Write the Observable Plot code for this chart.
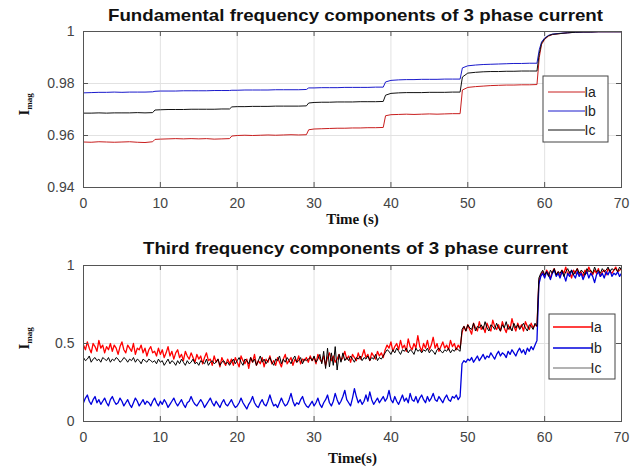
<!DOCTYPE html>
<html><head><meta charset="utf-8">
<script src="https://cdn.jsdelivr.net/npm/d3@7"></script>
<script src="https://cdn.jsdelivr.net/npm/@observablehq/plot@0.6"></script>
<style>
body{margin:0;background:#fff;}
#chart{width:643px;height:470px;overflow:hidden;background:#fff;}
#chart svg{display:block;}
</style>
</head><body><div id="chart"></div>
<script>
const xTicks = [0,10,20,30,40,50,60,70];
const yTicksTop = [0.94,0.96,0.98,1];
const yTicksBot = [0,0.5,1];
const seriesNames = ["Ia","Ib","Ic"];
const titleTop = "Fundamental frequency components of 3 phase current";
const titleBot = "Third frequency components of 3 phase current";
const xLabelTop = "Time (s)";
const xLabelBot = "Time(s)";
const yLabelMain = "I";
const yLabelSub = "mag";

const tTop = [0,1,2,3,4,5,6,7,8,9,
  9.3,10,11,12,13,14,15,16,17,18,19,
  19.3,20,21,22,23,24,25,26,27,28,29,
  29.3,30,31,32,33,34,35,36,37,38,39,
  39.3,40,41,42,43,44,45,46,47,48,49,
  49.3,50,51,52,53,54,55,56,57,58,59,
  59.3,59.6,60,60.5,
  61,62,63,64,65,66,67,68,69,70];
const iaTop = [0.9575,0.9574,0.9576,0.9575,0.9574,0.9575,0.9576,0.9574,0.9573,0.9576,
  0.9585,0.9586,0.9587,0.9588,0.9587,0.9588,0.9587,0.9588,0.9586,0.9587,0.9588,
  0.9598,0.9600,0.9601,0.9600,0.9601,0.9602,0.9601,0.9602,0.9603,0.9602,0.9603,
  0.9622,0.9625,0.9626,0.9627,0.9628,0.9628,0.9629,0.9629,0.9630,0.9630,0.9631,
  0.9676,0.9680,0.9681,0.9682,0.9681,0.9682,0.9683,0.9682,0.9683,0.9684,0.9684,
  0.9775,0.9785,0.9788,0.9790,0.9792,0.9793,0.9794,0.9794,0.9795,0.9795,0.9796,
  0.9900,0.9950,0.9970,0.9982,
  0.9988,0.9992,0.9995,0.9997,0.9998,0.9998,0.9999,0.9999,0.9999,0.9999];
const ibTop = [0.9764,0.9765,0.9766,0.9766,0.9767,0.9766,0.9767,0.9767,0.9767,0.9768,
  0.9770,0.9771,0.9771,0.9771,0.9772,0.9772,0.9772,0.9772,0.9773,0.9773,0.9773,
  0.9774,0.9774,0.9775,0.9775,0.9775,0.9775,0.9776,0.9776,0.9776,0.9776,0.9777,
  0.9783,0.9783,0.9784,0.9784,0.9784,0.9785,0.9785,0.9785,0.9785,0.9786,0.9786,
  0.9806,0.9812,0.9814,0.9815,0.9815,0.9816,0.9816,0.9816,0.9817,0.9817,0.9817,
  0.9860,0.9868,0.9871,0.9873,0.9874,0.9875,0.9876,0.9877,0.9877,0.9878,0.9878,
  0.9930,0.9960,0.9975,0.9985,
  0.9990,0.9993,0.9995,0.9997,0.9998,0.9998,0.9999,0.9999,0.9999,0.9999];
const icTop = [0.9686,0.9686,0.9687,0.9686,0.9687,0.9687,0.9687,0.9688,0.9687,0.9688,
  0.9698,0.9699,0.9700,0.9700,0.9700,0.9701,0.9701,0.9701,0.9701,0.9702,0.9702,
  0.9710,0.9711,0.9711,0.9712,0.9712,0.9712,0.9713,0.9713,0.9713,0.9713,0.9714,
  0.9725,0.9727,0.9728,0.9728,0.9729,0.9729,0.9729,0.9730,0.9730,0.9730,0.9731,
  0.9755,0.9762,0.9764,0.9765,0.9765,0.9765,0.9766,0.9766,0.9766,0.9767,0.9767,
  0.9825,0.9840,0.9843,0.9845,0.9846,0.9846,0.9847,0.9847,0.9848,0.9848,0.9848,
  0.9915,0.9955,0.9972,0.9984,
  0.9989,0.9992,0.9995,0.9997,0.9998,0.9998,0.9999,0.9999,0.9999,0.9999];

const tBot = [
  0,0.25,0.5,0.75,1,1.25,1.5,1.75,2,2.25,2.5,2.75,3,3.25,3.5,3.75,4,4.25,4.5,4.75,
  5,5.25,5.5,5.75,6,6.25,6.5,6.75,7,7.25,7.5,7.75,8,8.25,8.5,8.75,9,9.25,9.5,9.75,
  10,10.25,10.5,10.75,11,11.25,11.5,11.75,12,12.25,12.5,12.75,13,13.25,13.5,13.75,14,14.25,14.5,14.75,
  15,15.25,15.5,15.75,16,16.25,16.5,16.75,17,17.25,17.5,17.75,18,18.25,18.5,18.75,19,19.25,19.5,19.75,
  20,20.25,20.5,20.75,21,21.25,21.5,21.75,22,22.25,22.5,22.75,23,23.25,23.5,23.75,24,24.25,24.5,24.75,
  25,25.25,25.5,25.75,26,26.25,26.5,26.75,27,27.25,27.5,27.75,28,28.25,28.5,28.75,29,29.25,29.5,29.75,
  30,30.25,30.5,30.75,31,31.25,31.5,31.75,32,32.25,32.5,32.75,33,33.25,33.5,33.75,34,34.25,34.5,34.75,
  35,35.25,35.5,35.75,36,36.25,36.5,36.75,37,37.25,37.5,37.75,38,38.25,38.5,38.75,39,39.25,39.5,39.75,
  40,40.25,40.5,40.75,41,41.25,41.5,41.75,42,42.25,42.5,42.75,43,43.25,43.5,43.75,44,44.25,44.5,44.75,
  45,45.25,45.5,45.75,46,46.25,46.5,46.75,47,47.25,47.5,47.75,48,48.25,48.5,48.75,49,49.25,49.5,49.75,
  50,50.25,50.5,50.75,51,51.25,51.5,51.75,52,52.25,52.5,52.75,53,53.25,53.5,53.75,54,54.25,54.5,54.75,
  55,55.25,55.5,55.75,56,56.25,56.5,56.75,57,57.25,57.5,57.75,58,58.25,58.5,58.75,59,59.25,59.5,59.75,
  60,60.25,60.5,60.75,61,61.25,61.5,61.75,62,62.25,62.5,62.75,63,63.25,63.5,63.75,64,64.25,64.5,64.75,
  65,65.25,65.5,65.75,66,66.25,66.5,66.75,67,67.25,67.5,67.75,68,68.25,68.5,68.75,69,69.25,69.5,69.75,
  70];
const iaBot = [
  0.49,0.46,0.51,0.47,0.44,0.50,0.48,0.45,0.52,0.47,0.49,0.44,0.48,0.46,0.50,0.45,0.49,0.47,0.43,0.48,
  0.51,0.46,0.44,0.49,0.47,0.45,0.50,0.43,0.47,0.46,0.49,0.44,0.47,0.42,0.46,0.48,0.44,
  0.45,0.42,0.47,0.43,0.46,0.41,0.44,0.48,0.42,0.45,0.40,0.44,0.46,0.41,0.43,0.39,0.45,0.42,0.40,0.44,
  0.41,0.38,0.43,0.40,0.42,0.37,0.41,0.44,0.39,0.40,0.36,0.42,0.38,0.40,0.35,0.41,0.38,0.36,0.40,0.37,
  0.40,0.36,0.41,0.38,0.35,0.42,0.39,0.37,0.40,0.34,0.41,0.38,0.43,0.36,0.39,0.37,0.41,0.35,0.40,0.38,
  0.42,0.37,0.39,0.36,0.41,0.38,0.35,0.40,0.43,0.37,0.39,0.41,0.36,0.40,0.38,0.42,0.37,0.40,0.39,0.41,
  0.38,0.42,0.39,0.41,0.37,0.43,0.40,0.38,0.42,0.36,0.41,0.44,0.39,0.42,0.38,0.40,0.43,0.39,0.41,0.45,
  0.40,0.42,0.38,0.43,0.41,0.39,0.44,0.40,0.42,0.46,0.41,0.43,0.39,0.44,0.42,0.40,0.45,0.42,0.44,0.41,
  0.46,0.49,0.47,0.51,0.45,0.48,0.50,0.46,0.52,0.47,0.49,0.45,0.53,0.48,0.46,0.50,0.47,0.55,0.48,0.45,
  0.50,0.47,0.52,0.46,0.49,0.54,0.47,0.50,0.45,0.48,0.51,0.47,0.49,0.46,0.52,0.48,0.50,0.46,0.49,0.47,
  0.57,0.61,0.58,0.62,0.59,0.56,0.63,0.60,0.58,0.64,0.59,0.61,0.57,0.63,0.60,0.58,0.65,0.61,0.59,0.62,
  0.58,0.64,0.60,0.57,0.62,0.59,0.66,0.61,0.58,0.63,0.60,0.62,0.58,0.64,0.61,0.59,0.63,0.60,0.62,0.61,
  0.90,0.94,0.96,0.93,0.97,0.95,0.92,0.96,0.98,0.94,0.96,0.93,0.97,0.95,0.99,0.94,0.96,0.92,0.97,0.95,
  0.98,0.94,0.96,0.93,0.97,0.95,0.99,0.96,0.94,0.97,0.95,0.98,0.93,0.96,0.97,0.94,0.98,0.96,0.95,0.97,
  0.99,0.96,0.97,0.98];
const ibBot = [
  0.12,0.15,0.17,0.13,0.11,0.14,0.16,0.12,0.14,0.11,0.13,0.15,0.12,0.10,0.14,0.16,0.13,0.11,0.12,0.15,
  0.13,0.10,0.12,0.14,0.11,0.09,0.12,0.15,0.13,0.10,0.12,0.14,0.11,0.13,0.12,0.10,0.13,
  0.15,0.12,0.10,0.13,0.11,0.14,0.12,0.09,0.11,0.13,0.15,0.12,0.10,0.12,0.14,0.11,0.09,0.12,0.13,0.16,
  0.13,0.11,0.10,0.12,0.14,0.12,0.09,0.11,0.13,0.15,0.12,0.10,0.13,0.11,0.09,0.12,0.14,0.11,0.10,0.12,
  0.14,0.11,0.09,0.10,0.12,0.15,0.12,0.10,0.08,0.11,0.13,0.16,0.12,0.10,0.09,0.12,0.14,0.11,0.10,0.13,
  0.17,0.13,0.10,0.11,0.09,0.12,0.15,0.12,0.10,0.11,0.14,0.18,0.13,0.10,0.12,0.11,0.14,0.16,0.12,0.10,
  0.09,0.11,0.13,0.10,0.12,0.15,0.11,0.09,0.12,0.14,0.17,0.12,0.10,0.13,0.18,0.14,0.11,0.13,0.16,0.20,
  0.14,0.12,0.10,0.15,0.21,0.16,0.12,0.14,0.11,0.13,0.17,0.13,0.19,0.14,0.11,0.13,0.15,0.12,0.14,0.16,
  0.13,0.15,0.20,0.14,0.12,0.16,0.13,0.11,0.14,0.17,0.13,0.15,0.12,0.18,0.14,0.13,0.16,0.12,0.15,0.17,
  0.14,0.12,0.16,0.13,0.15,0.18,0.14,0.13,0.16,0.14,0.12,0.15,0.17,0.14,0.13,0.16,0.15,0.17,0.14,0.16,
  0.37,0.39,0.38,0.40,0.39,0.41,0.38,0.40,0.42,0.39,0.41,0.43,0.40,0.42,0.41,0.44,0.42,0.40,0.43,0.45,
  0.42,0.44,0.43,0.41,0.45,0.43,0.46,0.44,0.42,0.45,0.47,0.44,0.46,0.43,0.47,0.45,0.48,0.46,0.49,0.52,
  0.88,0.93,0.95,0.92,0.96,0.94,0.91,0.95,0.97,0.93,0.95,0.92,0.96,0.94,0.90,0.95,0.93,0.97,0.94,0.92,
  0.96,0.93,0.95,0.91,0.94,0.96,0.92,0.95,0.93,0.89,0.94,0.96,0.93,0.95,0.92,0.96,0.94,0.97,0.93,0.95,
  0.94,0.96,0.93,0.95];
const icBot = [
  0.41,0.39,0.40,0.42,0.38,0.40,0.41,0.39,0.40,0.38,0.41,0.40,0.39,0.41,0.38,0.40,0.39,0.41,0.40,0.38,
  0.39,0.41,0.40,0.38,0.40,0.39,0.41,0.38,0.40,0.39,0.37,0.40,0.39,0.38,0.40,0.39,0.38,
  0.39,0.37,0.40,0.38,0.39,0.36,0.38,0.40,0.37,0.39,0.38,0.36,0.39,0.37,0.40,0.38,0.36,0.39,0.37,0.38,
  0.40,0.37,0.38,0.36,0.39,0.38,0.37,0.40,0.36,0.38,0.39,0.37,0.38,0.40,0.36,0.38,0.39,0.37,0.38,0.36,
  0.38,0.40,0.37,0.39,0.41,0.38,0.36,0.40,0.39,0.37,0.41,0.38,0.40,0.36,0.39,0.42,0.38,0.40,0.37,0.39,
  0.41,0.38,0.36,0.40,0.39,0.42,0.37,0.40,0.38,0.41,0.39,0.37,0.40,0.42,0.38,0.39,0.41,0.37,0.40,0.39,
  0.40,0.41,0.39,0.42,0.38,0.40,0.43,0.37,0.45,0.34,0.47,0.35,0.44,0.36,0.48,0.33,0.43,0.38,0.44,0.39,
  0.41,0.39,0.42,0.40,0.38,0.41,0.40,0.42,0.39,0.41,0.40,0.42,0.39,0.41,0.40,0.43,0.39,0.41,0.40,0.42,
  0.44,0.46,0.45,0.43,0.46,0.44,0.47,0.45,0.43,0.46,0.45,0.47,0.44,0.46,0.45,0.43,0.47,0.45,0.46,0.44,
  0.46,0.45,0.47,0.44,0.46,0.45,0.43,0.46,0.47,0.45,0.44,0.46,0.45,0.47,0.44,0.46,0.45,0.47,0.46,0.45,
  0.59,0.61,0.58,0.62,0.60,0.59,0.63,0.58,0.61,0.60,0.62,0.59,0.64,0.60,0.58,0.62,0.61,0.59,0.63,0.60,
  0.58,0.62,0.60,0.64,0.59,0.61,0.58,0.63,0.60,0.62,0.59,0.61,0.63,0.60,0.58,0.62,0.61,0.59,0.63,0.61,
  0.92,0.95,0.97,0.94,0.96,0.93,0.97,0.95,0.98,0.94,0.96,0.95,0.97,0.93,0.96,0.98,0.95,0.97,0.94,0.96,
  0.98,0.95,0.97,0.96,0.94,0.98,0.96,0.97,0.95,0.99,0.96,0.97,0.95,0.98,0.96,0.97,0.99,0.96,0.98,0.97,
  0.98,0.96,0.99,0.97];

const W = 643, ML = 83, MR = 22, FH = 156;

function makeChart(o) {
  const FW = W - ML - MR;
  const data = o.series.map((vals) => vals.map((v, i) => ({t: o.t[i], v})));
  const svg = Plot.plot({
    width: W, height: o.height,
    marginLeft: ML, marginRight: MR, marginTop: o.marginTop, marginBottom: o.height - o.marginTop - FH,
    style: {fontFamily: "'Liberation Sans', Arial, sans-serif", fontSize: "14px", color: "#444", background: "#fff", overflow: "visible"},
    x: {domain: [0, 70]},
    y: {domain: o.yDomain},
    marks: [
      Plot.gridX(xTicks, {stroke: "#e2e2e2", strokeOpacity: 1}),
      Plot.gridY(o.yTicks, {stroke: "#e2e2e2", strokeOpacity: 1}),
      ...data.map((d, k) => Plot.line(d, {x: "t", y: "v", stroke: o.colors[k], strokeWidth: o.widths[k], clip: true})),
      Plot.tickX(xTicks, {x: d => d, insetTop: FH - 5, stroke: "#555"}),
      Plot.tickX(xTicks, {x: d => d, insetBottom: FH - 5, stroke: "#555"}),
      Plot.tickY(o.yTicks, {y: d => d, insetRight: FW - 5, stroke: "#555"}),
      Plot.tickY(o.yTicks, {y: d => d, insetLeft: FW - 5, stroke: "#555"}),
      Plot.frame({stroke: "#555"}),
      Plot.axisX(xTicks, {tickSize: 0, tickPadding: 11, label: null, tickFormat: d => String(d)}),
      Plot.axisY(o.yTicks, {tickSize: 0, tickPadding: 9, label: null, tickFormat: d => String(d)}),
      Plot.text([o.title], {frameAnchor: "top", lineAnchor: "middle", dy: o.titleDy, dx: o.titleDx, fontWeight: "bold", fontSize: 17, fill: "#111"}),
      Plot.text([o.xLabel], {frameAnchor: "bottom", lineAnchor: "middle", dy: o.xLabelDy, fontFamily: "'Liberation Serif', 'Times New Roman', serif", fontWeight: "bold", fontSize: 15, fill: "#111"}),
      Plot.text([yLabelMain], {frameAnchor: "left", dx: -59, dy: 6, rotate: -90, fontFamily: "'Liberation Serif', 'Times New Roman', serif", fontWeight: "bold", fontSize: 15, fill: "#111"})
    ]
  });
  const s = d3.select(svg);
  s.selectAll("text").filter(function () { return this.textContent === o.title; })
    .attr("textLength", o.titleLen).attr("lengthAdjust", "spacingAndGlyphs");
  s.selectAll("text").filter(function () { return this.textContent === yLabelMain; })
    .append("tspan").attr("dy", "0.3em").attr("font-size", 9).text(yLabelSub);
  // legend
  const L = o.legend;
  const g = s.append("g").attr("class", "legend");
  g.append("rect").attr("x", L.x).attr("y", L.y).attr("width", L.w).attr("height", L.h)
    .attr("fill", "#fff").attr("stroke", "#444").attr("stroke-width", 1);
  seriesNames.forEach((name, k) => {
    g.append("line").attr("x1", L.lx1).attr("x2", L.lx2).attr("y1", L.rows[k]).attr("y2", L.rows[k])
      .attr("stroke", o.colors[k]).attr("stroke-width", L.lw[k]);
    g.append("text").attr("x", L.tx).attr("y", L.rows[k]).attr("dy", "0.35em")
      .attr("font-size", 14).attr("fill", "#222").text(name);
  });
  return svg;
}

const chart = document.getElementById("chart");
chart.appendChild(makeChart({
  t: tTop, series: [iaTop, ibTop, icTop],
  colors: ["#c81e1e", "#1a1acc", "#111111"], widths: [1, 1, 1],
  yDomain: [0.94, 1], yTicks: yTicksTop,
  title: titleTop, titleDy: -16, titleDx: 3, titleLen: 495,
  xLabel: xLabelTop, xLabelDy: 32,
  height: 236, marginTop: 31,
  legend: {x: 543, y: 76, w: 65, h: 66, rows: [92, 111, 130], lx1: 548, lx2: 585, tx: 590, lw: [1, 1, 1]}
}));
chart.appendChild(makeChart({
  t: tBot, series: [iaBot, ibBot, icBot],
  colors: ["#ff0000", "#0000dd", "#000000"], widths: [1.3, 1.3, 1],
  yDomain: [0, 1], yTicks: yTicksBot,
  title: titleBot, titleDy: -17, titleDx: 3, titleLen: 425,
  xLabel: xLabelBot, xLabelDy: 37,
  height: 234, marginTop: 29,
  legend: {x: 549, y: 78, w: 66, h: 65, rows: [91, 112, 132], lx1: 553, lx2: 592, tx: 596, lw: [1.3, 1.3, 0.6]}
}));
</script>
</body></html>
